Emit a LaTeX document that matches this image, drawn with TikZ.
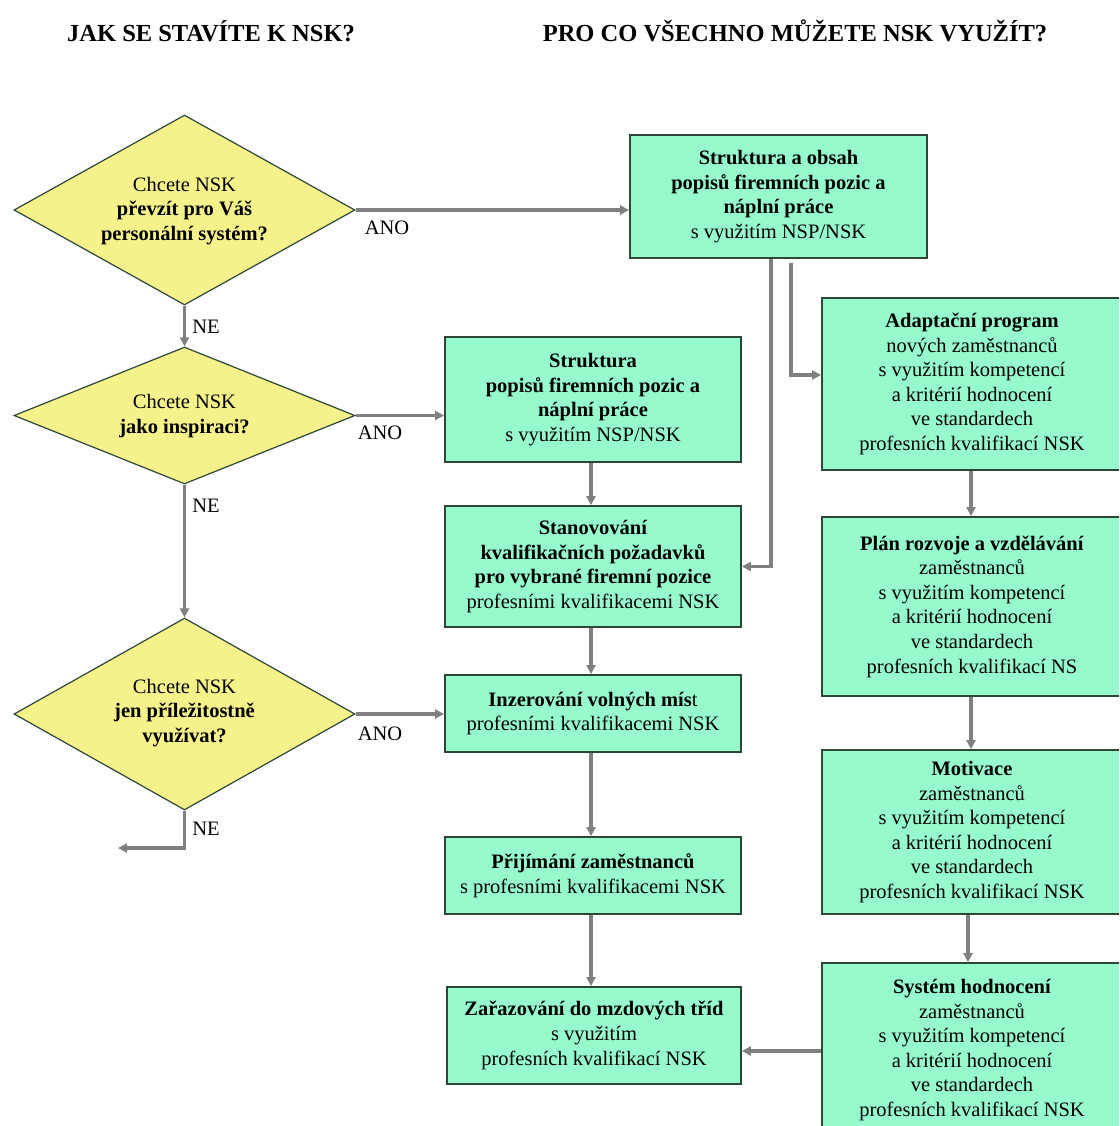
\documentclass[tikz,border=0pt]{standalone}
\usepackage{fontspec}
\setmainfont{Liberation Serif}
\usetikzlibrary{shapes.geometric,arrows.meta,calc}
\definecolor{boxfill}{RGB}{150,250,205}
\definecolor{boxline}{RGB}{45,70,55}
\definecolor{dfill}{RGB}{245,242,140}
\definecolor{arrgray}{RGB}{128,128,128}
\begin{document}
\begin{tikzpicture}[x=1pt,y=-1pt,
  every node/.style={font=\fontsize{20.5}{24.6}\selectfont},
  box/.style={draw=boxline,line width=1.8pt,fill=boxfill,inner sep=0pt,align=center},
  dia/.style={diamond,draw=boxline,line width=1.2pt,fill=dfill,inner sep=0pt},
  dtext/.style={align=center},
  arr/.style={draw=arrgray,line width=3.2pt,-{Triangle[length=9pt,width=9pt]}},
  lbl/.style={inner sep=1pt},
  nelbl/.style={fill=white,inner sep=2pt},
  head/.style={font=\fontsize{24.5}{28}\selectfont\bfseries}]
\useasboundingbox (0,0) rectangle (1119,1126);
\begin{scope}
\clip (0,0) rectangle (1119,1126);
% headings
\node[head] (h1) at (211,31) {JAK SE STAVÍTE K NSK?};
\node[head] (h2) at (795,31) {PRO CO VŠECHNO MŮŽETE NSK VYUŽÍT?};
% diamonds
\node[dia,minimum width=341,minimum height=190] (d1) at (184.5,210) {};
\node[dtext] (t1) at (184.5,211) {Chcete NSK\\\textbf{převzít pro Váš}\\\textbf{personální systém?}};
\node[dia,minimum width=341,minimum height=137] (d2) at (184.5,415.5) {};
\node[dtext] (t2) at (184.5,416) {Chcete NSK\\\textbf{jako inspiraci?}};
\node[dia,minimum width=341,minimum height=192] (d3) at (184.5,714) {};
\node[dtext] (t3) at (184.5,713) {Chcete NSK\\\textbf{jen příležitostně}\\\textbf{využívat?}};
% left-middle column
\node[box,minimum width=297,minimum height=123] (b1) at (778.5,196.5)
 {\textbf{Struktura a obsah}\\\textbf{popisů firemních pozic a}\\\textbf{náplní práce}\\s využitím NSP/NSK};
\node[box,minimum width=296,minimum height=125] (b2) at (593,399.5)
 {\textbf{Struktura}\\\textbf{popisů firemních pozic a}\\\textbf{náplní práce}\\s využitím NSP/NSK};
\node[box,minimum width=296,minimum height=121] (b3) at (593,566.5)
 {\textbf{Stanovování}\\\textbf{kvalifikačních požadavků}\\\textbf{pro vybrané firemní pozice}\\profesními kvalifikacemi NSK};
\node[box,minimum width=296,minimum height=77] (b4) at (593,713.5)
 {\textbf{Inzerování volných mís}t\\profesními kvalifikacemi NSK};
\node[box,minimum width=296,minimum height=77] (b5) at (593,875.5)
 {\textbf{Přijímání zaměstnanců}\\s profesními kvalifikacemi NSK};
\node[box,minimum width=294,minimum height=97] (b6) at (594,1035.5)
 {\textbf{Zařazování do mzdových tříd}\\s využitím\\profesních kvalifikací NSK};
% right column
\node[box,minimum width=300,minimum height=172] (bA) at (972,384)
 {\textbf{Adaptační program}\\nových zaměstnanců\\s využitím kompetencí\\a kritérií hodnocení\\ve standardech\\profesních kvalifikací NSK};
\node[box,minimum width=300,minimum height=179] (bB) at (972,606.5)
 {\textbf{Plán rozvoje a vzdělávání}\\zaměstnanců\\s využitím kompetencí\\a kritérií hodnocení\\ve standardech\\profesních kvalifikací NS};
\node[box,minimum width=300,minimum height=164] (bC) at (972,832)
 {\textbf{Motivace}\\zaměstnanců\\s využitím kompetencí\\a kritérií hodnocení\\ve standardech\\profesních kvalifikací NSK};
\node[box,minimum width=300,minimum height=174] (bD) at (972,1050)
 {\textbf{Systém hodnocení}\\zaměstnanců\\s využitím kompetencí\\a kritérií hodnocení\\ve standardech\\profesních kvalifikací NSK};
% connectors from diamonds
\draw[arr] (d1.east) -- (d1.east -| b1.west);
\node[lbl] (a1) at (387,228) {ANO};
\draw[arr] (d1.south) -- (d2.north);
\node[nelbl] (n1) at (206,327) {NE};
\draw[arr] (d2.east) -- (d2.east -| b2.west);
\node[lbl] (a2) at (380,433) {ANO};
\draw[arr] (d2.south) -- (d3.north);
\node[nelbl] (n2) at (206,506) {NE};
\draw[arr] (d3.east) -- (d3.east -| b4.west);
\node[lbl] (a3) at (380,734) {ANO};
\coordinate (out) at (118,848);
\draw[arr] (d3.south) |- (out);
\node[nelbl] (n3) at (206,829) {NE};
% column flow
\draw[arr] (b2.south -| 591,0) -- (b3.north -| 591,0);
\draw[arr] (b3.south -| 591,0) -- (b4.north -| 591,0);
\draw[arr] (b4.south -| 591,0) -- (b5.north -| 591,0);
\draw[arr] (b5.south -| 591,0) -- (b6.north -| 591,0);
\draw[arr] ([xshift=-7.5pt]b1.south) |- (b3.east);
\draw[arr] ([xshift=12.5pt,yshift=-4pt]b1.south) |- ([yshift=9pt]bA.west);
\draw[arr] (bA.south -| 971,0) -- (bB.north -| 971,0);
\draw[arr] (bB.south -| 971,0) -- (bC.north -| 971,0);
\draw[arr] (bC.south -| 968,0) -- (bD.north -| 968,0);
\draw[arr] ([yshift=-1pt]bD.west) -- ([yshift=-1pt]bD.west -| b6.east);
\end{scope}
\end{tikzpicture}
\end{document}
